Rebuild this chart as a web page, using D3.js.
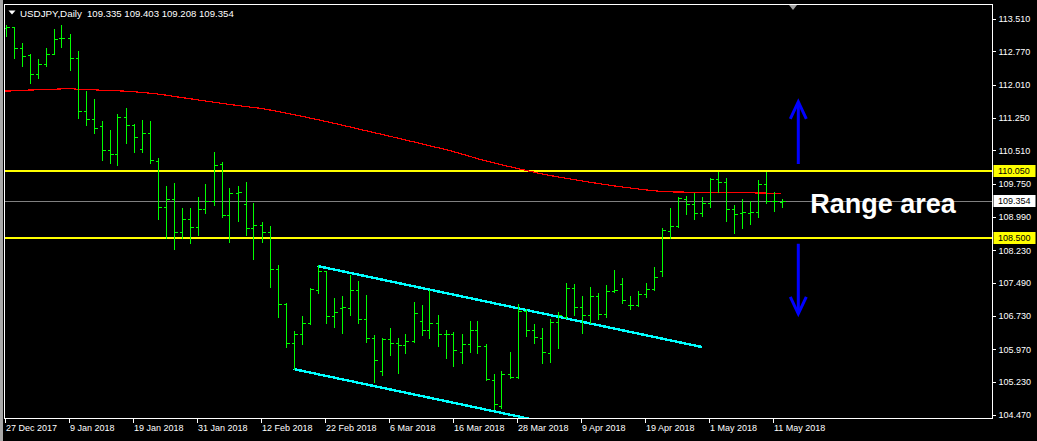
<!DOCTYPE html>
<html><head><meta charset="utf-8">
<script src="https://cdn.jsdelivr.net/npm/d3@7"></script>
<style>
html,body{margin:0;padding:0;background:#000;}
svg{display:block;}
text{font-family:"Liberation Sans",Arial,sans-serif;}
</style></head><body>
<svg id="chart" width="1037" height="441"></svg>
<script>
// ---------------- data ----------------
const symbol = "USDJPY,Daily";
const startDate = "2017-12-27";
const holidays = ["2018-01-01"];
const open  = [113.305,113.321,112.841,112.688,112.254,112.476,112.718,113.065,113.070,112.613,
  111.410,111.227,111.067,110.519,110.428,111.266,111.090,110.542,110.907,110.275,
  109.211,109.394,108.647,108.937,108.754,109.165,109.362,110.193,109.042,109.531,
  109.280,108.732,108.807,108.647,107.796,106.996,106.106,106.318,106.563,107.323,
  107.750,106.729,106.905,106.905,107.323,106.654,106.220,105.480,106.197,106.120,
  106.067,106.170,106.608,106.403,106.563,106.318,106.318,105.907,106.090,106.410,
  106.044,105.268,104.675,105.405,105.330,106.850,106.403,106.220,105.878,106.586,
  106.713,107.369,106.942,106.745,107.186,106.775,107.300,107.460,106.974,106.980,
  107.232,107.339,107.757,108.677,108.791,109.401,109.286,109.074,109.302,109.850,
  109.796,109.165,109.074,109.074,109.111,109.736,109.362,109.335];
const high  = [113.373,113.330,112.962,112.700,112.597,112.841,113.282,113.373,113.161,112.780,
  111.866,111.684,111.181,110.976,111.341,111.478,111.113,111.204,111.181,110.330,
  109.697,109.759,109.188,109.188,109.439,109.736,110.467,110.252,109.645,109.697,
  109.782,109.302,108.875,108.791,107.887,107.026,106.380,106.729,107.369,107.887,
  107.760,107.147,107.186,107.659,107.528,107.209,106.296,106.220,106.448,106.220,
  106.318,107.049,106.981,107.323,106.752,106.410,106.357,106.318,106.615,106.627,
  106.090,105.398,105.474,105.901,106.996,106.882,106.540,106.448,106.654,106.827,
  107.476,107.453,107.193,107.385,107.261,107.437,107.780,107.590,107.186,107.307,
  107.490,107.841,108.732,109.188,109.439,109.469,109.544,109.446,109.873,110.024,
  109.873,109.264,109.401,109.362,109.834,110.024,109.567,109.403];
const low   = [113.122,112.627,112.437,112.042,112.156,112.444,112.704,112.860,112.339,111.257,
  111.090,110.907,110.291,110.229,110.177,110.679,110.474,110.474,110.223,108.951,
  108.503,108.266,108.503,108.403,108.586,109.074,109.264,108.983,108.426,108.905,
  108.572,108.038,108.419,107.398,106.713,106.028,105.519,106.083,106.547,107.261,
  106.563,106.485,106.348,106.752,106.563,106.143,105.229,105.382,105.839,105.435,
  105.878,106.143,106.302,106.239,106.056,105.777,105.595,105.668,105.914,105.878,
  105.268,104.613,104.622,105.307,105.307,106.266,106.106,105.649,105.686,105.992,
  106.695,106.752,106.348,106.576,106.654,106.700,107.277,107.019,106.882,106.965,
  107.170,107.323,107.649,108.517,108.768,109.051,108.944,109.019,109.225,109.567,
  108.898,108.631,108.745,108.823,108.983,109.302,109.127,109.208];
const close = [113.334,112.841,112.659,112.254,112.476,112.718,113.054,113.076,112.613,111.410,
  111.227,111.015,110.519,110.428,111.266,111.090,110.816,110.907,110.291,109.211,
  109.394,108.647,108.937,108.754,109.165,109.362,110.177,109.042,109.531,109.560,
  108.732,108.796,108.647,107.796,106.996,106.106,106.318,106.563,107.346,107.750,
  106.729,106.827,106.930,107.323,106.654,106.220,105.725,106.197,106.120,106.067,
  106.170,106.791,106.403,106.563,106.318,106.330,105.953,106.090,106.410,106.044,
  105.291,104.713,105.405,105.330,106.850,106.403,106.257,105.901,106.586,106.752,
  107.369,106.942,106.745,107.186,106.775,107.307,107.334,107.095,106.992,107.232,
  107.339,107.627,108.693,108.791,109.417,109.286,109.074,109.302,109.857,109.796,
  109.165,109.058,109.097,109.111,109.736,109.362,109.355,109.354];
const movingAvg = [111.866,111.870,111.878,111.889,111.893,111.898,111.905,111.915,111.925,111.905,
  111.900,111.895,111.882,111.877,111.872,111.862,111.850,111.835,111.818,111.798,
  111.773,111.745,111.718,111.692,111.665,111.638,111.612,111.585,111.560,111.535,
  111.512,111.490,111.470,111.435,111.400,111.365,111.330,111.292,111.252,111.212,
  111.172,111.132,111.090,111.048,111.005,110.962,110.920,110.877,110.835,110.792,
  110.748,110.705,110.661,110.618,110.574,110.530,110.482,110.430,110.378,110.320,
  110.275,110.230,110.185,110.140,110.098,110.055,110.015,109.975,109.940,109.908,
  109.876,109.845,109.815,109.785,109.757,109.730,109.703,109.678,109.655,109.632,
  109.610,109.590,109.575,109.565,109.560,109.558,109.556,109.555,109.554,109.553,
  109.551,109.548,109.545,109.542,109.539,109.536,109.533,109.531];
const xTickDates = ["2017-12-27","2018-01-09","2018-01-19","2018-01-31","2018-02-12","2018-02-22",
  "2018-03-06","2018-03-16","2018-03-28","2018-04-09","2018-04-19","2018-05-01","2018-05-11"];
const yTickValues = [113.510,112.770,112.010,111.250,110.510,109.750,108.990,108.230,107.490,106.730,105.970,105.230,104.470];
const levels = [110.050, 108.500];
const bid = 109.354;
const channelUpper = [{bar:39, price:107.871},{bar:87.05, price:106.022}];
const channelLower = [{bar:36, price:105.519},{bar:66, price:104.364}];
const arrows = [{bar:99.1, from:110.20, to:111.62},{bar:99.1, from:108.38, to:106.78}];
const note = {bar:100.6, price:109.08, text:"Range area"};

// trading-day categories
const dates = [];
{
  let d = new Date(startDate + "T00:00:00Z");
  while (dates.length < open.length) {
    const s = d.toISOString().slice(0,10), wd = d.getUTCDay();
    if (wd !== 0 && wd !== 6 && !holidays.includes(s)) dates.push(s);
    d.setUTCDate(d.getUTCDate() + 1);
  }
}

// ---------------- drawing ----------------
const svg = d3.select("#chart");
const W = 1037, H = 441;
const plot = {l:4.5, t:4.5, r:992.5, b:418.5};
svg.append("rect").attr("width",W).attr("height",H).attr("fill","#000");
svg.append("rect").attr("x",0).attr("y",0).attr("width",3).attr("height",H).attr("fill","#a8a8a8");

const x = d3.scaleLinear().domain([0, dates.length-1]).range([5.5, 5.5 + 8*(dates.length-1)]);
const y = d3.scaleLinear().domain([104.47, 113.51]).range([415, 19]);
const ry = v => Math.round(y(v)) + 0.5;

svg.append("defs").append("clipPath").attr("id","clip")
  .append("rect").attr("x",plot.l).attr("y",plot.t).attr("width",plot.r-plot.l).attr("height",plot.b-plot.t);
const g = svg.append("g").attr("clip-path","url(#clip)");

// level lines
g.selectAll(".lvl").data(levels).join("line")
  .attr("x1",plot.l).attr("x2",plot.r)
  .attr("y1",d=>Math.round(y(d))).attr("y2",d=>Math.round(y(d)))
  .attr("stroke","#ffff00").attr("stroke-width",2).attr("shape-rendering","crispEdges");
g.append("line").attr("x1",plot.l).attr("x2",plot.r).attr("y1",ry(bid)).attr("y2",ry(bid))
  .attr("stroke","#808080").attr("stroke-width",1).attr("shape-rendering","crispEdges");

// moving average
g.append("path").datum(movingAvg)
  .attr("d", d3.line().x((d,i)=>x(i)).y(d=>y(d)))
  .attr("fill","none").attr("stroke","#ff0000").attr("stroke-width",1.2).attr("shape-rendering","crispEdges");

// channel
[channelUpper, channelLower].forEach(c=>{
  g.append("path").datum(c)
   .attr("d", d3.line().x(d=>x(d.bar)).y(d=>y(d.price)))
   .attr("fill","none").attr("stroke","#00ffff").attr("stroke-width",2.4).attr("shape-rendering","crispEdges");
});

// OHLC bars
const bars = g.append("g").attr("stroke","#00ff00").attr("stroke-width",1).attr("shape-rendering","crispEdges");
dates.forEach((d,i)=>{
  const cx = Math.round(x(i)) + 0.5;
  bars.append("line").attr("x1",cx).attr("x2",cx).attr("y1",Math.round(y(high[i]))).attr("y2",Math.round(y(low[i]))+1);
  bars.append("line").attr("x1",cx-3).attr("x2",cx).attr("y1",ry(open[i])).attr("y2",ry(open[i]));
  bars.append("line").attr("x1",cx).attr("x2",cx+3).attr("y1",ry(close[i])).attr("y2",ry(close[i]));
});

// arrows
arrows.forEach(a=>{
  const ax = x(a.bar), y0 = y(a.from), y1 = y(a.to), dir = y1 < y0 ? 1 : -1;
  g.append("line").attr("x1",ax).attr("x2",ax).attr("y1",y0).attr("y2",y1+dir*1)
    .attr("stroke","#0000ff").attr("stroke-width",3);
  g.append("path").attr("d",`M${ax-8},${y1+dir*17}L${ax},${y1}L${ax+8},${y1+dir*17}`)
    .attr("fill","none").attr("stroke","#0000ff").attr("stroke-width",3);
});

// note
g.append("text").attr("x",x(note.bar)).attr("y",y(note.price))
  .attr("fill","#fff").attr("font-size",27).attr("font-weight","bold").text(note.text);

// frame
svg.append("rect").attr("x",plot.l).attr("y",plot.t).attr("width",plot.r-plot.l).attr("height",plot.b-plot.t)
  .attr("fill","none").attr("stroke","#fff").attr("stroke-width",1).attr("shape-rendering","crispEdges");

// chart shift marker
svg.append("path").attr("d","M789,5L797,5L793,10Z").attr("fill","#a0a0a0");

// right axis
const yAxis = svg.append("g").attr("transform",`translate(${plot.r},0)`)
  .call(d3.axisRight(y).tickValues(yTickValues).tickFormat(d3.format(".3f")).tickSize(3).tickPadding(3));
yAxis.select(".domain").remove();
yAxis.selectAll("line").attr("stroke","#fff").attr("shape-rendering","crispEdges");
yAxis.selectAll("text").attr("fill","#fff").attr("font-size",9).attr("font-family","Liberation Sans, Arial, sans-serif");

// level price labels
const priceTags = levels.map(v=>({v, bg:"#ffff00"})).concat([{v:bid, bg:"#ffffff"}]);
priceTags.forEach(t=>{
  const yy = Math.round(y(t.v));
  svg.append("rect").attr("x",plot.r+1).attr("y",yy-6).attr("width",42).attr("height",12).attr("fill",t.bg);
  svg.append("text").attr("x",plot.r+5.5).attr("y",yy).attr("dy","0.35em")
    .attr("fill","#000").attr("font-size",9).text(d3.format(".3f")(t.v));
});

// bottom axis
const fmt = d3.utcFormat("%-d %b %Y");
const xAxis = svg.append("g").attr("transform",`translate(-1,${plot.b})`)
  .call(d3.axisBottom(x).tickValues(xTickDates.map(d=>dates.indexOf(d)))
    .tickFormat(i=>fmt(new Date(dates[i]+"T00:00:00Z"))).tickSize(4));
xAxis.select(".domain").remove();
xAxis.selectAll("line").attr("stroke","#fff").attr("shape-rendering","crispEdges");
xAxis.selectAll("text").attr("fill","#fff").attr("font-size",9).attr("text-anchor","start")
  .attr("x",1).attr("y",12.5).attr("dy",0).attr("font-family","Liberation Sans, Arial, sans-serif");

// title
svg.append("path").attr("d","M8.5,10.5L15.5,10.5L12,14.5Z").attr("fill","#fff");
svg.append("text").attr("x",20).attr("y",16.5).attr("fill","#fff").attr("font-size",9.8).text(symbol);
svg.append("text").attr("x",87).attr("y",16.5).attr("fill","#fff").attr("font-size",9.6)
  .text([open, high, low, close].map(a=>a[a.length-1].toFixed(3)).join(" "));
</script>
</body></html>
